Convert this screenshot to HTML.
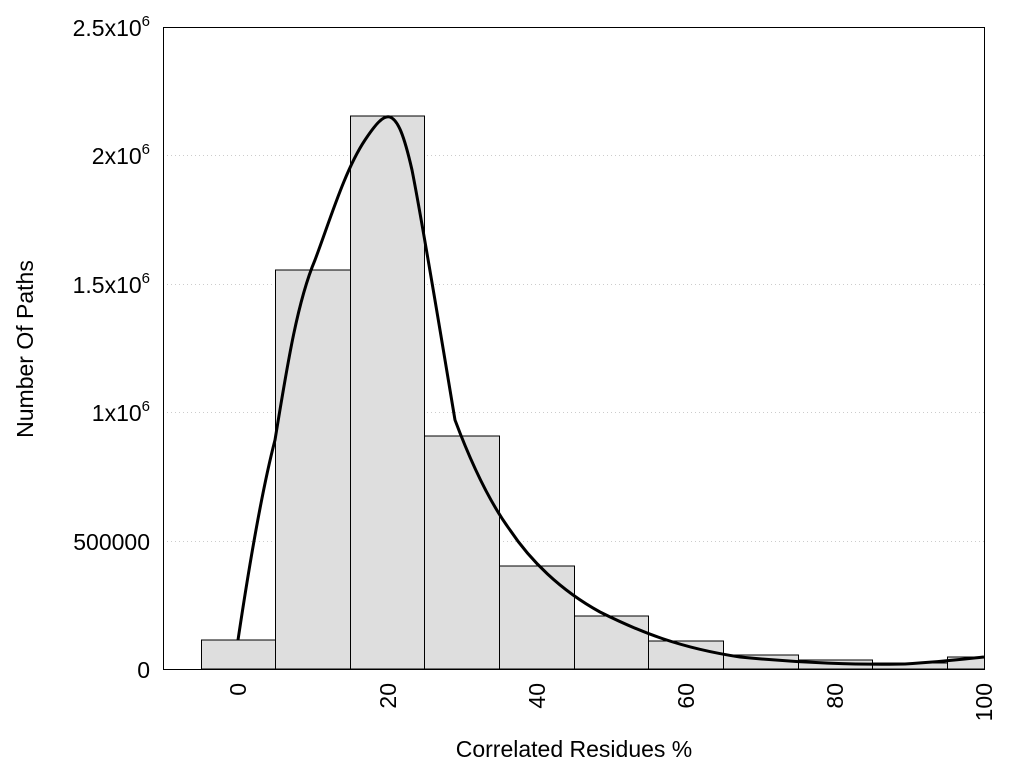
<!DOCTYPE html>
<html><head><style>body{margin:0;background:#fff}svg{display:block}</style></head>
<body>
<svg width="1024" height="768" xmlns="http://www.w3.org/2000/svg" font-family="Liberation Sans, Arial, sans-serif">
<g stroke="#ccc" stroke-dasharray="1,3" stroke-width="1">
<line x1="163" y1="541.5" x2="984" y2="541.5"/>
<line x1="163" y1="412.5" x2="984" y2="412.5"/>
<line x1="163" y1="284.5" x2="984" y2="284.5"/>
<line x1="163" y1="155.5" x2="984" y2="155.5"/>
</g>
<g fill="#dedede" stroke="#000" stroke-width="1">
<rect x="201.5" y="640" width="74" height="29"/>
<rect x="275.5" y="270" width="75" height="399"/>
<rect x="350.5" y="116" width="74" height="553"/>
<rect x="424.5" y="436" width="75" height="233"/>
<rect x="499.5" y="566" width="75" height="103"/>
<rect x="574.5" y="616" width="74" height="53"/>
<rect x="648.5" y="641" width="75" height="28"/>
<rect x="723.5" y="655" width="75" height="14"/>
<rect x="798.5" y="660" width="74" height="9"/>
<rect x="872.5" y="663" width="75" height="6"/>
<rect x="947.5" y="657" width="37" height="12"/>
</g>
<path d="M238,640 C250,560 262,490 275,440 C288,360 298,300 315,260 C330,220 345,170 365,140 C375,125 383,115 390,117 C398,120 404,135 412,170 C422,220 440,330 455,420 C470,460 488,500 510,530 C530,560 560,590 600,612 C640,632 680,648 740,657 C800,663 860,665 905,664 C940,662 965,659 984,657" fill="none" stroke="#000" stroke-width="3"/>
<rect x="163.5" y="27.5" width="821" height="642" fill="none" stroke="#000" stroke-width="1"/>
<g font-size="23" text-anchor="end" fill="#000">
<text x="150" y="678">0</text>
<text x="150" y="550">500000</text>
<text x="150" y="421">1x10<tspan font-size="15" dy="-10">6</tspan></text>
<text x="150" y="293">1.5x10<tspan font-size="15" dy="-10">6</tspan></text>
<text x="150" y="164">2x10<tspan font-size="15" dy="-10">6</tspan></text>
<text x="150" y="36">2.5x10<tspan font-size="15" dy="-10">6</tspan></text>
</g>
<g font-size="23" text-anchor="end" fill="#000">
<text transform="translate(246,683) rotate(-90)">0</text>
<text transform="translate(396,683) rotate(-90)">20</text>
<text transform="translate(545,683) rotate(-90)">40</text>
<text transform="translate(694,683) rotate(-90)">60</text>
<text transform="translate(843,683) rotate(-90)">80</text>
<text transform="translate(992,683) rotate(-90)">100</text>
</g>
<text x="574" y="757" font-size="23" text-anchor="middle">Correlated Residues %</text>
<text transform="translate(33,349) rotate(-90)" font-size="23" text-anchor="middle">Number Of Paths</text>
</svg>
</body></html>
